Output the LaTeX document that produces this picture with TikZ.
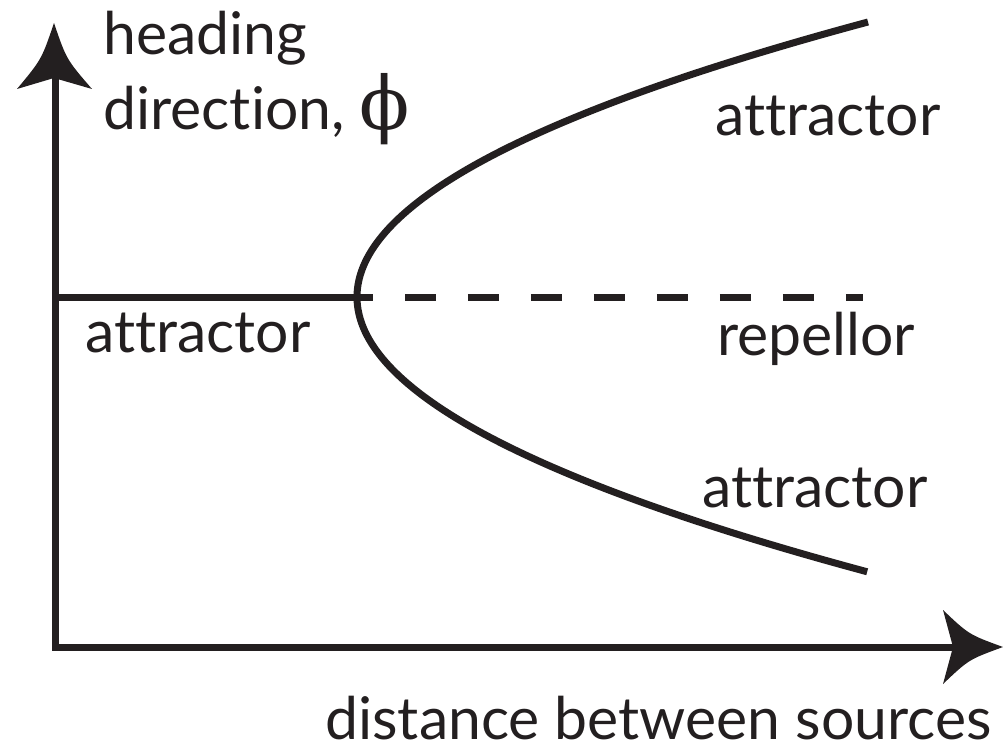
\documentclass[tikz,border=0pt]{standalone}
\usepackage{fontspec}
\setmainfont{Lato}[Ligatures=NoCommon]
\newfontfamily\phifont{DejaVu Serif}
\begin{document}
\begin{tikzpicture}[x=0.02cm,y=-0.02cm,
  ink/.style={line width=0.14cm,draw={rgb,255:red,35;green,31;blue,32}},
  headfill/.style={fill={rgb,255:red,35;green,31;blue,32}},
  lbl/.style={inner sep=0pt,anchor=base west,text={rgb,255:red,35;green,31;blue,32},font=\fontsize{33.5}{40}\selectfont}]
\useasboundingbox (0,0) rectangle (1003,750);
% axes
\coordinate (origin) at (55,647);
\coordinate (ynotch) at (55,78);
\coordinate (xnotch) at (953,647);
\draw[ink,line join=miter] (ynotch) -- (origin) -- (xnotch);
% y arrow head
\fill[headfill] (54,23) .. controls (41.6,59.4) .. (17,89) -- (54,78) -- (92,89) .. controls (66.4,59.4) .. cycle;
% x arrow head
\fill[headfill] (1003,647) .. controls (968.8,634.5) .. (943,610) -- (953,647) -- (943,684) .. controls (968.8,659.5) .. cycle;
% branches
\coordinate (vertex) at (357,297);
\coordinate (leftend) at (55,297);
\draw[ink] (leftend) -- (373,297);
\draw[ink,dash pattern=on 0.62cm off 0.64cm] (405,297) -- (863,297);
\draw[ink,line cap=butt] plot[domain=-1:1,samples=120,smooth] ({357+511*(\x)^2},{297+275*\x});
% labels
\node[lbl] (head1) at (103,55) {heading};
\node[lbl] (head2) at (103,130) {direction, {\phifont\fontsize{42}{44}\selectfont ϕ}};
\node[lbl] (attop) at (715,135) {attractor};
\node[lbl] (atleft) at (85,352) {attractor};
\node[lbl] (rep) at (717,355) {repellor};
\node[lbl] (atbot) at (702,507) {attractor};
\node[lbl] (xlab) at (325,739) {distance between sources};
\end{tikzpicture}
\end{document}
